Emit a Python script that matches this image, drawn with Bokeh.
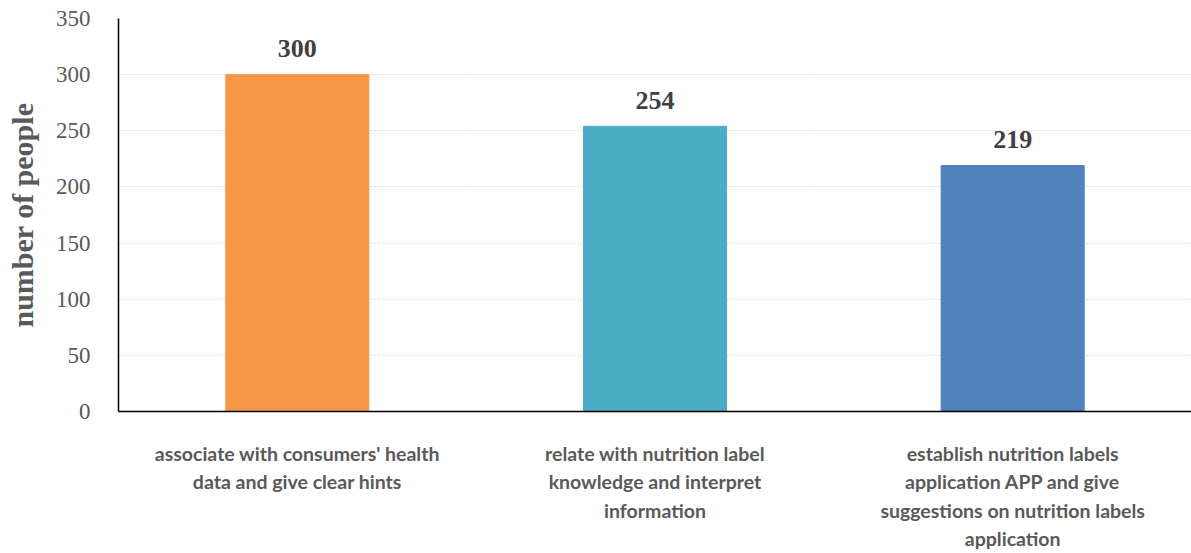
from bokeh.plotting import figure
from bokeh.models import ColumnDataSource, FixedTicker, LabelSet
from bokeh.embed import file_html
from bokeh.resources import INLINE

categories = ["associate with consumers' health\ndata and give clear hints",
              "relate with nutrition label\nknowledge and interpret\ninformation",
              "establish nutrition labels\napplication APP and give\nsuggestions on nutrition labels\napplication"]
values = [300, 254, 219]
colors = ["#F79646", "#4BACC6", "#4F81BD"]
y_ticks = [0, 50, 100, 150, 200, 250, 300, 350]

src = ColumnDataSource(dict(x=categories, top=values, color=colors, label=[str(v) for v in values]))

p = figure(x_range=categories, y_range=(0, 350), width=1191, height=553,
           output_backend="svg", toolbar_location=None,
           min_border_left=118, min_border_right=0, min_border_top=18, min_border_bottom=141)
p.outline_line_color = None
p.background_fill_color = "white"
p.border_fill_color = "white"

p.vbar(x="x", top="top", width=0.4, color="color", source=src)

labels = LabelSet(x="x", y="top", text="label", source=src, text_align="center",
                  text_baseline="middle", y_offset=26, text_font="Liberation Serif",
                  text_font_style="bold", text_font_size="26px", text_color="#404040")
p.add_layout(labels)

p.yaxis.ticker = FixedTicker(ticks=y_ticks)
p.yaxis.major_label_text_font = "Liberation Serif"
p.yaxis.major_label_text_font_size = "23px"
p.yaxis.major_label_text_color = "#595959"
p.yaxis.major_tick_line_color = None
p.yaxis.minor_tick_line_color = None
p.yaxis.axis_line_color = "black"
p.yaxis.axis_line_width = 1.5
p.yaxis.major_label_standoff = 22
p.yaxis.axis_label = "number of people"
p.yaxis.axis_label_text_font = "Liberation Serif"
p.yaxis.axis_label_text_font_style = "bold"
p.yaxis.axis_label_text_font_size = "30px"
p.yaxis.axis_label_text_color = "#595959"
p.yaxis.axis_label_standoff = 14

p.xaxis.major_label_text_font = "Lato"
p.xaxis.major_label_text_font_style = "bold"
p.xaxis.major_label_text_font_size = "19.5px"
p.xaxis.major_label_text_color = "#595959"
p.xaxis.major_label_text_line_height = 1.24
p.xaxis.major_tick_line_color = None
p.xaxis.minor_tick_line_color = None
p.xaxis.axis_line_color = "black"
p.xaxis.axis_line_width = 1.5
p.xaxis.major_label_standoff = 24

p.xgrid.grid_line_color = None
p.ygrid.grid_line_color = "#D9D9D9"
p.ygrid.grid_line_dash = "2 2"
p.ygrid.grid_line_width = 1

open("out.html", "w").write(file_html(p, INLINE))
